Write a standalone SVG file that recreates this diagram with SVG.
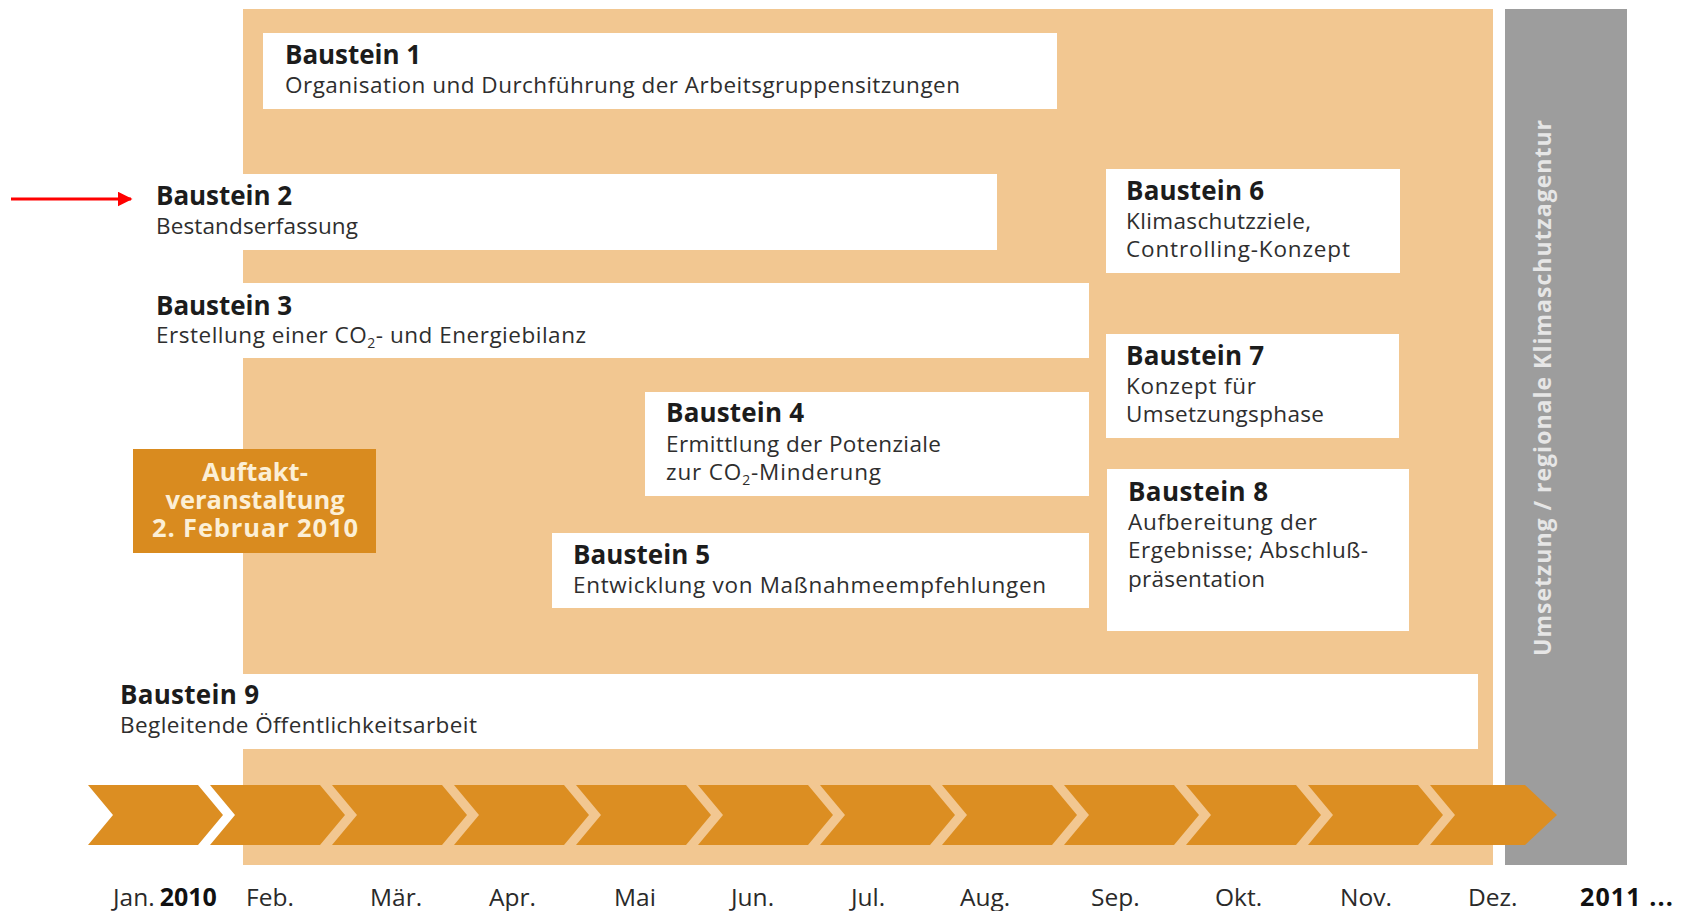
<svg xmlns="http://www.w3.org/2000/svg" width="1685" height="911" viewBox="0 0 1685 911">
<defs>
<style>
text{font-family:"Open Sans","Noto Sans","Liberation Sans",sans-serif}
.box{fill:#ffffff}
.t{font-size:26px;font-weight:bold;fill:#1c1c1c}
.s{font-size:22.5px;fill:#2e2e2e}
.m{font-size:24.5px;fill:#2a2a2a}
.mb{font-size:25px;font-weight:bold;fill:#111}
.chev{fill:#dc8e22}
.auf{font-size:25.5px;font-weight:bold;fill:#fcefd6;text-anchor:middle}
</style>
<polygon id="chev" class="chev" points="0,785 110,785 135,815 110,845 0,845 25,815"/>
<marker id="redhead" markerWidth="5" markerHeight="5" refX="4.5" refY="2.5" orient="auto" markerUnits="strokeWidth">
<polygon points="0,0 5,2.5 0,5" fill="#ff0000"/>
</marker>
</defs>
<rect width="1685" height="911" fill="#ffffff"/>
<g id="background">
<rect x="243" y="9" width="1250" height="856" fill="#f2c791"/>
<rect x="1505" y="9" width="122" height="856" fill="#9d9d9d"/>
<text x="1551" y="656" transform="rotate(-90 1551 656)" font-size="23" font-weight="bold" fill="#e6e6e6" textLength="536" lengthAdjust="spacing">Umsetzung / regionale Klimaschutzagentur</text>
</g>
<g id="baustein1">
<rect class="box" x="263" y="33" width="794" height="76"/>
<text class="t" x="285" y="64" textLength="136" lengthAdjust="spacing">Baustein 1</text>
<text class="s" x="285" y="93" textLength="675" lengthAdjust="spacing">Organisation und Durchführung der Arbeitsgruppensitzungen</text>
</g>
<g id="baustein2">
<rect class="box" x="140" y="174" width="857" height="76"/>
<text class="t" x="156" y="205" textLength="136" lengthAdjust="spacing">Baustein 2</text>
<text class="s" x="156" y="234" textLength="202" lengthAdjust="spacing">Bestandserfassung</text>
</g>
<g id="baustein3">
<rect class="box" x="140" y="283" width="949" height="75"/>
<text class="t" x="156" y="315" textLength="136" lengthAdjust="spacing">Baustein 3</text>
<text class="s" x="156" y="343" textLength="430" lengthAdjust="spacing">Erstellung einer CO<tspan font-size="14" dy="5">2</tspan><tspan dy="-5">- und Energiebilanz</tspan></text>
</g>
<g id="baustein4">
<rect class="box" x="645" y="392" width="444" height="104"/>
<text class="t" x="666" y="422" textLength="138" lengthAdjust="spacing">Baustein 4</text>
<text class="s" x="666" y="452" textLength="275" lengthAdjust="spacing">Ermittlung der Potenziale</text>
<text class="s" x="666" y="480" textLength="215" lengthAdjust="spacing">zur CO<tspan font-size="14" dy="5">2</tspan><tspan dy="-5">-Minderung</tspan></text>
</g>
<g id="baustein5">
<rect class="box" x="552" y="533" width="537" height="75"/>
<text class="t" x="573" y="564" textLength="137" lengthAdjust="spacing">Baustein 5</text>
<text class="s" x="573" y="593" textLength="473" lengthAdjust="spacing">Entwicklung von Maßnahmeempfehlungen</text>
</g>
<g id="baustein6">
<rect class="box" x="1106" y="169" width="294" height="104"/>
<text class="t" x="1126" y="200" textLength="138" lengthAdjust="spacing">Baustein 6</text>
<text class="s" x="1126" y="229" textLength="185" lengthAdjust="spacing">Klimaschutzziele,</text>
<text class="s" x="1126" y="257" textLength="224" lengthAdjust="spacing">Controlling-Konzept</text>
</g>
<g id="baustein7">
<rect class="box" x="1106" y="334" width="293" height="104"/>
<text class="t" x="1126" y="365" textLength="138" lengthAdjust="spacing">Baustein 7</text>
<text class="s" x="1126" y="394" textLength="130" lengthAdjust="spacing">Konzept für</text>
<text class="s" x="1126" y="422" textLength="198" lengthAdjust="spacing">Umsetzungsphase</text>
</g>
<g id="baustein8">
<rect class="box" x="1107" y="469" width="302" height="162"/>
<text class="t" x="1128" y="501" textLength="140" lengthAdjust="spacing">Baustein 8</text>
<text class="s" x="1128" y="530" textLength="189" lengthAdjust="spacing">Aufbereitung der</text>
<text class="s" x="1128" y="558" textLength="240" lengthAdjust="spacing">Ergebnisse; Abschluß-</text>
<text class="s" x="1128" y="587" textLength="137" lengthAdjust="spacing">präsentation</text>
</g>
<g id="baustein9">
<rect class="box" x="110" y="674" width="1368" height="75"/>
<text class="t" x="120" y="704" textLength="139" lengthAdjust="spacing">Baustein 9</text>
<text class="s" x="120" y="733" textLength="357" lengthAdjust="spacing">Begleitende Öffentlichkeitsarbeit</text>
</g>
<g id="auftakt">
<rect x="133" y="449" width="243" height="104" fill="#d98b1f"/>
<text class="auf" x="255" y="481">Auftakt-</text>
<text class="auf" x="255" y="509">veranstaltung</text>
<text class="auf" x="255" y="537" textLength="206" lengthAdjust="spacing">2. Februar 2010</text>
</g>
<g id="timeline">
<use href="#chev" x="88"/>
<use href="#chev" x="210"/>
<use href="#chev" x="332"/>
<use href="#chev" x="454"/>
<use href="#chev" x="576"/>
<use href="#chev" x="698"/>
<use href="#chev" x="820"/>
<use href="#chev" x="942"/>
<use href="#chev" x="1064"/>
<use href="#chev" x="1186"/>
<use href="#chev" x="1308"/>
<polygon class="chev" points="1430,785 1525,785 1557,815 1525,845 1430,845 1455,815"/>
</g>
<g id="months">
<text class="m" x="113" y="906">Jan.<tspan class="mb" dx="5">2010</tspan></text>
<text class="m" x="246" y="906">Feb.</text>
<text class="m" x="370" y="906">Mär.</text>
<text class="m" x="489" y="906">Apr.</text>
<text class="m" x="614" y="906">Mai</text>
<text class="m" x="731" y="906">Jun.</text>
<text class="m" x="851" y="906">Jul.</text>
<text class="m" x="960" y="906">Aug.</text>
<text class="m" x="1091" y="906">Sep.</text>
<text class="m" x="1215" y="906">Okt.</text>
<text class="m" x="1340" y="906">Nov.</text>
<text class="m" x="1468" y="906">Dez.</text>
<text class="mb" x="1580" y="906" textLength="93" lengthAdjust="spacing">2011 ...</text>
</g>
<g id="connectors">
<line x1="11" y1="199" x2="131" y2="199" stroke="#ff0000" stroke-width="3" marker-end="url(#redhead)"/>
</g>
</svg>
